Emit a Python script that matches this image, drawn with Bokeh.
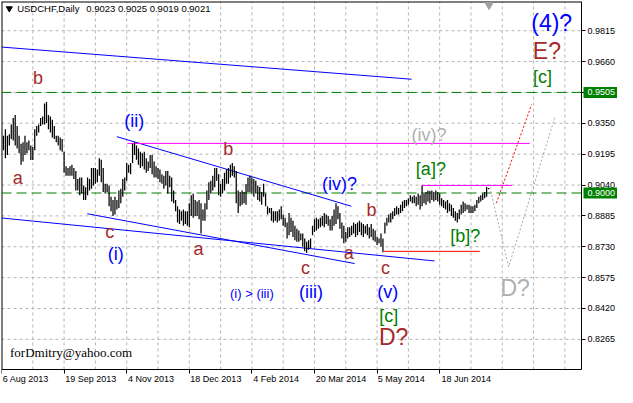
from bokeh.plotting import figure
from bokeh.models import (Range1d, LinearAxis, FixedTicker, Label,
                          ColumnDataSource, PrintfTickFormatter)
from bokeh.core.properties import value
from bokeh.embed import file_html
from bokeh.resources import INLINE

# ---------------- data ----------------
symbol_title = "USDCHF,Daily"
last_ohlc = "0.9023 0.9025 0.9019 0.9021"
signature = "forDmitry@yahoo.com"

# daily bars (bar index 1..249), high / low
bar_high = [
    0.9287, 0.9320, 0.9287, 0.9295, 0.9344, 0.9376, 0.9392, 0.9336, 0.9287, 0.9247,
    0.9255, 0.9287, 0.9255, 0.9263, 0.9239, 0.9231, 0.9320, 0.9336, 0.9344, 0.9376,
    0.9384, 0.9449, 0.9457, 0.9392, 0.9384, 0.9368, 0.9336, 0.9287, 0.9287, 0.9279,
    0.9271, 0.9207, 0.9134, 0.9126, 0.9134, 0.9142, 0.9126, 0.9110, 0.9070, 0.9078,
    0.9078, 0.9037, 0.9029, 0.9078, 0.9070, 0.9126, 0.9126, 0.9126, 0.9118, 0.9175,
    0.9167, 0.9126, 0.9046, 0.9046, 0.9038, 0.8981, 0.8965, 0.8981, 0.8965, 0.9013,
    0.9021, 0.9070, 0.9078, 0.9150, 0.9142, 0.9150, 0.9247, 0.9255, 0.9239, 0.9223,
    0.9207, 0.9199, 0.9207, 0.9175, 0.9158, 0.9191, 0.9191, 0.9158, 0.9134, 0.9126,
    0.9118, 0.9094, 0.9086, 0.9110, 0.9110, 0.9086, 0.9078, 0.9013, 0.8965, 0.8933,
    0.8917, 0.8908, 0.8917, 0.8908, 0.8908, 0.8949, 0.8989, 0.8997, 0.8965, 0.8957,
    0.8965, 0.8949, 0.8917, 0.8949, 0.9013, 0.9054, 0.9062, 0.9086, 0.9126, 0.9126,
    0.9094, 0.9046, 0.9070, 0.9102, 0.9118, 0.9126, 0.9142, 0.9150, 0.9134, 0.9110,
    0.9013, 0.9005, 0.9013, 0.9005, 0.9045, 0.9078, 0.9086, 0.9078, 0.9070, 0.9062,
    0.9038, 0.9030, 0.9005, 0.9046, 0.8997, 0.8933, 0.8925, 0.8925, 0.8908, 0.8908,
    0.8908, 0.8917, 0.8933, 0.8892, 0.8876, 0.8852, 0.8900, 0.8876, 0.8860, 0.8836,
    0.8820, 0.8812, 0.8796, 0.8796, 0.8771, 0.8755, 0.8763, 0.8771, 0.8836, 0.8868,
    0.8876, 0.8868, 0.8876, 0.8884, 0.8900, 0.8892, 0.8884, 0.8868, 0.8884, 0.8917,
    0.8949, 0.8933, 0.8900, 0.8852, 0.8836, 0.8804, 0.8828, 0.8828, 0.8836, 0.8852,
    0.8844, 0.8852, 0.8860, 0.8852, 0.8844, 0.8836, 0.8844, 0.8828, 0.8844, 0.8820,
    0.8812, 0.8779, 0.8771, 0.8796, 0.8771, 0.8852, 0.8876, 0.8892, 0.8900, 0.8908,
    0.8925, 0.8933, 0.8925, 0.8941, 0.8957, 0.8965, 0.8965, 0.8973, 0.8989, 0.8981,
    0.8989, 0.8981, 0.8997, 0.8989, 0.9038, 0.8997, 0.9005, 0.9013, 0.9010, 0.9013,
    0.9005, 0.9013, 0.9005, 0.8997, 0.8973, 0.8965, 0.8957, 0.8965, 0.8949, 0.8941,
    0.8925, 0.8908, 0.8900, 0.8917, 0.8941, 0.8957, 0.8949, 0.8941, 0.8941, 0.8933,
    0.8933, 0.8941, 0.8965, 0.8981, 0.8989, 0.8997, 0.9005, 0.9030, 0.9025,
]
bar_low = [
    0.9215, 0.9174, 0.9191, 0.9239, 0.9271, 0.9263, 0.9239, 0.9223, 0.9199, 0.9142,
    0.9158, 0.9191, 0.9199, 0.9215, 0.9166, 0.9166, 0.9215, 0.9287, 0.9304, 0.9336,
    0.9344, 0.9344, 0.9352, 0.9320, 0.9304, 0.9279, 0.9271, 0.9255, 0.9239, 0.9215,
    0.9207, 0.9102, 0.9086, 0.9086, 0.9086, 0.9086, 0.9070, 0.9013, 0.9013, 0.8989,
    0.8997, 0.8965, 0.8965, 0.8989, 0.9013, 0.9021, 0.9038, 0.9046, 0.9054, 0.9086,
    0.9054, 0.9005, 0.8997, 0.9005, 0.8933, 0.8908, 0.8884, 0.8892, 0.8917, 0.8925,
    0.8949, 0.8981, 0.9013, 0.9062, 0.9102, 0.9094, 0.9150, 0.9191, 0.9167, 0.9142,
    0.9126, 0.9134, 0.9118, 0.9102, 0.9110, 0.9126, 0.9094, 0.9078, 0.9078, 0.9070,
    0.9054, 0.9046, 0.9021, 0.9038, 0.8997, 0.9029, 0.8957, 0.8949, 0.8908, 0.8852,
    0.8844, 0.8860, 0.8836, 0.8844, 0.8836, 0.8828, 0.8884, 0.8876, 0.8884, 0.8884,
    0.8868, 0.8796, 0.8860, 0.8860, 0.8917, 0.8965, 0.8997, 0.9013, 0.9029, 0.9062,
    0.8989, 0.8981, 0.8997, 0.9013, 0.9046, 0.9046, 0.9078, 0.9086, 0.9078, 0.8949,
    0.8900, 0.8933, 0.8941, 0.8949, 0.8941, 0.9005, 0.9005, 0.8997, 0.8981, 0.8997,
    0.8965, 0.8957, 0.8941, 0.8981, 0.8933, 0.8892, 0.8900, 0.8860, 0.8852, 0.8860,
    0.8852, 0.8860, 0.8868, 0.8836, 0.8828, 0.8771, 0.8788, 0.8804, 0.8779, 0.8763,
    0.8755, 0.8755, 0.8763, 0.8731, 0.8707, 0.8699, 0.8715, 0.8723, 0.8788, 0.8804,
    0.8812, 0.8820, 0.8828, 0.8836, 0.8828, 0.8844, 0.8836, 0.8812, 0.8812, 0.8836,
    0.8844, 0.8868, 0.8820, 0.8771, 0.8747, 0.8755, 0.8771, 0.8779, 0.8788, 0.8796,
    0.8779, 0.8788, 0.8804, 0.8788, 0.8779, 0.8796, 0.8788, 0.8771, 0.8779, 0.8763,
    0.8755, 0.8739, 0.8747, 0.8731, 0.8702, 0.8796, 0.8836, 0.8852, 0.8852, 0.8868,
    0.8884, 0.8892, 0.8892, 0.8900, 0.8908, 0.8925, 0.8933, 0.8941, 0.8957, 0.8949,
    0.8949, 0.8933, 0.8941, 0.8917, 0.8933, 0.8949, 0.8941, 0.8957, 0.8949, 0.8965,
    0.8957, 0.8965, 0.8957, 0.8941, 0.8933, 0.8925, 0.8917, 0.8900, 0.8908, 0.8884,
    0.8876, 0.8860, 0.8852, 0.8868, 0.8892, 0.8900, 0.8908, 0.8917, 0.8900, 0.8900,
    0.8900, 0.8908, 0.8925, 0.8949, 0.8957, 0.8965, 0.8973, 0.8981, 0.9019,
]
bar_index = list(range(1, len(bar_high) + 1))

price_ticks = [0.8265, 0.8420, 0.8575, 0.8730, 0.8885, 0.9040,
               0.9195, 0.9350, 0.9505, 0.9660, 0.9815]
date_ticks = [0, 32, 64, 96, 128, 160, 192, 224]
date_labels = ["6 Aug 2013", "19 Sep 2013", "4 Nov 2013", "18 Dec 2013",
               "4 Feb 2014", "20 Mar 2014", "5 May 2014", "18 Jun 2014"]
grid_bars = [16, 32, 48, 64, 80, 96, 112, 128, 144, 160, 176, 192, 208,
             224, 240, 256, 272, 288]

green_levels = [0.9505, 0.9000]

# trend lines: (bar index list, price list)
top_channel_x, top_channel_y = [0, 209.65], [0.97328, 0.95712]
wedge_top_x, wedge_top_y = [59, 178.85], [0.92828, 0.89335]
wedge_low_long_x, wedge_low_long_y = [0, 221.35], [0.88745, 0.86587]
wedge_low_short_x, wedge_low_short_y = [43.85, 180.5], [0.88958, 0.86457]
wave_ii_x, wave_ii_y = [64.35, 270], [0.9249, 0.9249]
wave_a_x, wave_a_y = [215, 261], [0.9038, 0.9038]
wave_v_x, wave_v_y = [195.5, 244.5], [0.8707, 0.8707]
forecast_red_x, forecast_red_y = [253, 271], [0.8949, 0.9444]
forecast_gray_x, forecast_gray_y = [249.65, 259.25, 283], [0.9029, 0.8629, 0.9384]

# wave labels: bar index, price, text
brown_x = [18.65, 8.35, 55.35, 115.9, 100.75, 189.15, 177.5, 155.35, 196.35]
brown_y = [0.9578, 0.9075, 0.8803, 0.9221, 0.8717, 0.8913, 0.8701, 0.8624, 0.8622]
brown_t = ["b", "a", "c", "b", "a", "b", "a", "c", "c"]
brown_big_x, brown_big_y, brown_big_t = [278.8, 200.5], [0.9711, 0.8276], ["E?", "D?"]

blue_x = [67.85, 58.4, 172.85, 158.25, 197.4]
blue_y = [0.9360, 0.8692, 0.9046, 0.8503, 0.8503]
blue_t = ["(ii)", "(i)", "(iv)?", "(iii)", "(v)"]
blue_big_x, blue_big_y, blue_big_t = [281.25], [0.9856], ["(4)?"]
blue_small_x, blue_small_y, blue_small_t = [128], [0.8497], ["(i) > (iii)"]

green_x = [276.5, 198, 219.5, 237.1]
green_y = [0.9582, 0.8381, 0.9122, 0.8784]
green_t = ["[c]", "[c]", "[a]?", "[b]?"]

gray_x, gray_y, gray_t = [218.6], [0.9292], ["(iv)?"]
gray_big_x, gray_big_y, gray_big_t = [262.6], [0.8521], ["D?"]

# ---------------- layout ----------------
W, H = 617, 387
FRAME_W, FRAME_H = W - 1, H - 1       # min_border left/top = 1
AXIS_W, AXIS_H = 36, 18               # price-scale and time-scale strips
CHART_W, CHART_H = FRAME_W - AXIS_W, FRAME_H - AXIS_H

X0, X1 = 0, 296.5                     # visible bars
Y0, Y1 = 0.81136, 0.99616             # visible prices
ppb = CHART_W / (X1 - X0)             # pixels per bar
ppx = (Y1 - Y0) / CHART_H             # price per pixel
XR = X1 + AXIS_W / ppb
YR = Y0 - AXIS_H * ppx

p = figure(width=W, height=H, output_backend="svg", toolbar_location=None,
           x_range=Range1d(X0, XR), y_range=Range1d(YR, Y1),
           x_axis_location=None, y_axis_location=None,
           min_border_left=1, min_border_top=1, min_border_right=0,
           min_border_bottom=0)
p.background_fill_color = "white"
p.border_fill_color = "white"
p.outline_line_color = None
p.xgrid.visible = False
p.ygrid.visible = False

AX_FONT = "Liberation Sans"

# grid (dashed, inside the chart area only)
p.segment(x0=grid_bars, y0=[Y0] * len(grid_bars), x1=grid_bars,
          y1=[Y1] * len(grid_bars), line_color="#b4b4b4", line_dash="3 3",
          line_width=1)
p.segment(x0=[X0] * len(price_ticks), y0=price_ticks, x1=[X1] * len(price_ticks),
          y1=price_ticks, line_color="#b4b4b4", line_dash="3 3", line_width=1)

# chart frame: left and top edges
p.line([X0, X0], [Y0, Y1], line_color="black", line_width=2)
p.line([X0, X1], [Y1, Y1], line_color="black", line_width=2)

# price scale (right)
yax = LinearAxis(ticker=FixedTicker(ticks=price_ticks),
                 formatter=PrintfTickFormatter(format="%.4f"),
                 fixed_location=X1, bounds=(Y0, Y1))
yax.major_label_overrides = {0.9505: ""}
yax.major_tick_out = 4
yax.major_tick_in = 0
yax.minor_tick_out = 0
yax.minor_tick_in = 0
yax.major_label_standoff = 2
yax.axis_line_color = "black"
yax.major_tick_line_color = "black"
yax.major_label_text_font = AX_FONT
yax.major_label_text_font_size = "9px"
yax.major_label_text_color = "black"
p.add_layout(yax, "right")

# time scale (bottom): tick marks at the dates, labels left-aligned after them
label_centers = [t + (1 + 4.65 * len(s) / 2) / ppb
                 for t, s in zip(date_ticks, date_labels)]
xax = LinearAxis(ticker=FixedTicker(ticks=label_centers, minor_ticks=date_ticks),
                 fixed_location=Y0, bounds=(X0, X1))
xax.major_label_overrides = {c: s for c, s in zip(label_centers, date_labels)}
xax.major_tick_out = 0
xax.major_tick_in = 0
xax.minor_tick_out = 4
xax.minor_tick_in = 0
xax.major_label_standoff = 0
xax.axis_line_color = "black"
xax.minor_tick_line_color = "black"
xax.major_label_text_font = AX_FONT
xax.major_label_text_font_size = "9px"
xax.major_label_text_color = "black"
p.add_layout(xax, "below")

# green horizontal levels
for lv in green_levels:
    p.line([X0, X1], [lv, lv], line_color="#008000", line_dash="10 5", line_width=1)

# trend lines
for xs, ys in [(top_channel_x, top_channel_y), (wedge_top_x, wedge_top_y),
               (wedge_low_long_x, wedge_low_long_y),
               (wedge_low_short_x, wedge_low_short_y)]:
    p.line(xs, ys, line_color="#0000ff", line_width=1)
p.line(wave_ii_x, wave_ii_y, line_color="#ff00ff", line_width=1)
p.line(wave_a_x, wave_a_y, line_color="#ff00ff", line_width=1)
p.line(wave_v_x, wave_v_y, line_color="#ff0000", line_width=1)
p.line(forecast_red_x, forecast_red_y, line_color="#ff0000", line_width=1,
       line_dash="2 2")
p.line(forecast_gray_x, forecast_gray_y, line_color="#a8a8a8", line_width=1,
       line_dash="2 2")

# price bars
src = ColumnDataSource(dict(x=bar_index, hi=bar_high, lo=bar_low))
p.segment(x0="x", y0="lo", x1="x", y1="hi", source=src,
          line_color="black", line_width=1.25)

# wave labels
LAB_FONT = value("Liberation Sans")
def labels(xs, ys, ts, color, size):
    p.text(x=xs, y=ys, text=ts, text_color=color, text_font=LAB_FONT,
           text_font_size=size, text_align="center", text_baseline="middle")

labels(brown_x, brown_y, brown_t, "#a52a2a", "18px")
labels(brown_big_x, brown_big_y, brown_big_t, "#a52a2a", "23px")
labels(blue_x, blue_y, blue_t, "#0000ff", "18px")
labels(blue_big_x, blue_big_y, blue_big_t, "#0000ff", "23px")
labels(blue_small_x, blue_small_y, blue_small_t, "#0000ff", "13px")
labels(green_x, green_y, green_t, "#008000", "18px")
labels(gray_x, gray_y, gray_t, "#b0b0b0", "18px")
labels(gray_big_x, gray_big_y, gray_big_t, "#b0b0b0", "23px")

# header
p.scatter(x=[4], y=[0.99263], marker="inverted_triangle", size=6,
          fill_color="black", line_color="black")
p.add_layout(Label(x=8, y=0.99263, text=symbol_title, text_align="left",
                   text_baseline="middle", text_font=AX_FONT,
                   text_font_size="9.5px", text_color="black"))
p.add_layout(Label(x=43.35, y=0.99263, text=last_ohlc, text_align="left",
                   text_baseline="middle", text_font=AX_FONT,
                   text_font_size="9.5px", text_color="black"))
# chart-shift marker
p.scatter(x=[249.25], y=[Y1 - 3.5 * ppx], marker="inverted_triangle", size=8,
          fill_color="#a0a0a0", line_color="#a0a0a0")

# signature
p.add_layout(Label(x=4.35, y=0.8199, text=signature, text_align="left",
                   text_baseline="middle", text_font="Liberation Serif",
                   text_font_size="13px", text_color="black"))

# green price boxes on the price scale
p.quad(left=[X1 + 2 / ppb] * 2, right=[XR] * 2,
       bottom=[lv - 5.5 * ppx for lv in green_levels],
       top=[lv + 5.5 * ppx for lv in green_levels],
       fill_color="#008000", line_color=None, level="overlay")
p.text(x=[X1 + 6 / ppb] * 2, y=green_levels,
       text=[f"{lv:.4f}" for lv in green_levels], text_color="white",
       text_font=value(AX_FONT), text_font_size="9px", text_align="left",
       text_baseline="middle", level="overlay")

open("out.html", "w").write(file_html(p, INLINE))
